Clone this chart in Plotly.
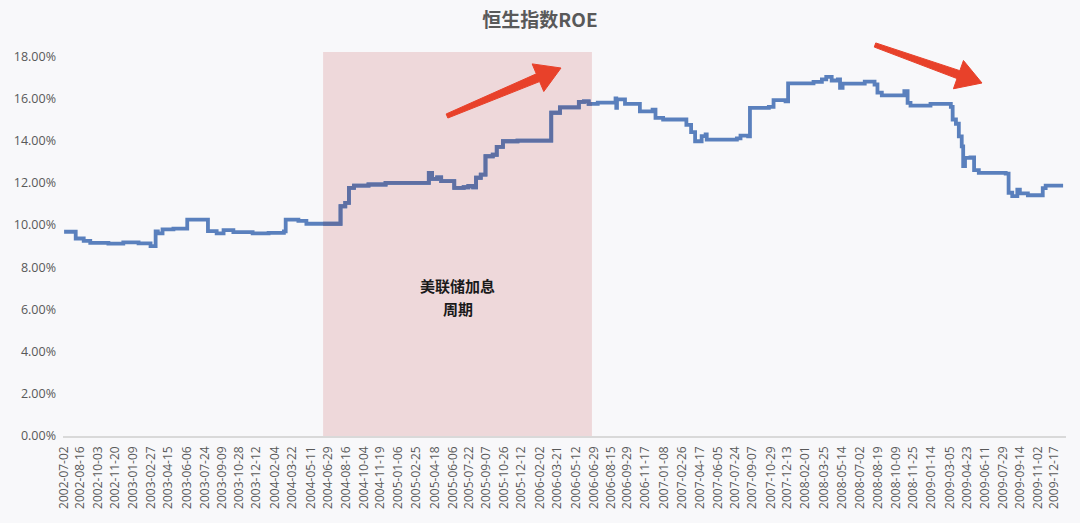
import numpy as np
import pandas as pd
import plotly.graph_objects as go

# ---------------- data ----------------
dates = [
    "2002-07-02", "2002-08-03", "2002-08-25", "2002-09-12", "2002-11-01", "2002-12-12",
    "2003-01-23", "2003-02-25", "2003-03-11", "2003-03-17", "2003-03-30", "2003-04-29",
    "2003-06-06", "2003-08-02", "2003-08-26", "2003-09-14", "2003-10-11", "2003-12-03",
    "2004-01-16", "2004-02-27", "2004-03-03", "2004-04-07", "2004-04-29", "2004-08-01",
    "2004-08-14", "2004-08-24", "2004-09-07", "2004-10-17", "2004-12-03", "2005-04-01",
    "2005-04-10", "2005-04-24", "2005-05-05", "2005-06-10", "2005-07-06", "2005-07-19",
    "2005-08-01", "2005-08-09", "2005-08-22", "2005-09-04", "2005-09-24", "2005-10-05",
    "2005-10-22", "2005-12-01", "2006-03-04", "2006-03-28", "2006-05-19", "2006-06-02",
    "2006-06-15", "2006-07-10", "2006-08-28", "2006-08-30", "2006-09-01", "2006-09-23",
    "2006-11-03", "2006-12-08", "2006-12-16", "2007-01-06", "2007-03-11", "2007-03-24",
    "2007-04-04", "2007-04-22", "2007-05-03", "2007-05-06", "2007-07-28", "2007-08-07",
    "2007-08-28", "2007-09-02", "2007-10-24", "2007-11-06", "2007-12-09", "2007-12-16",
    "2008-02-24", "2008-03-18", "2008-03-30", "2008-04-14", "2008-05-01", "2008-05-07",
    "2008-05-14", "2008-07-14", "2008-08-10", "2008-08-18", "2008-08-30", "2008-10-31",
    "2008-11-09", "2008-11-17", "2009-01-11", "2009-03-08", "2009-03-13", "2009-03-22",
    "2009-03-30", "2009-04-07", "2009-04-11", "2009-04-16", "2009-05-01", "2009-05-11",
    "2009-05-24", "2009-08-06", "2009-08-14", "2009-08-24", "2009-09-07", "2009-09-14",
    "2009-10-06", "2009-11-16", "2009-11-24", "2010-01-11",
]
roe = [
    9.68, 9.36, 9.25, 9.15, 9.12, 9.18,
    9.13, 9.00, 9.70, 9.60, 9.79, 9.83,
    10.26, 9.71, 9.60, 9.76, 9.66, 9.60,
    9.63, 9.70, 10.26, 10.20, 10.06, 10.89,
    11.05, 11.76, 11.87, 11.92, 12.00, 12.47,
    12.19, 12.26, 12.08, 11.76, 11.79, 11.85,
    11.79, 12.24, 12.39, 13.26, 13.33, 13.70,
    13.97, 14.00, 15.32, 15.58, 15.84, 15.86,
    15.74, 15.80, 16.00, 15.55, 15.95, 15.74,
    15.39, 15.47, 15.08, 15.00, 14.75, 14.40,
    13.97, 14.21, 14.30, 14.05, 14.11, 14.24,
    14.20, 15.55, 15.60, 15.92, 15.86, 16.71,
    16.78, 16.90, 17.02, 16.85, 16.90, 16.50,
    16.70, 16.80, 16.66, 16.27, 16.14, 16.34,
    15.79, 15.66, 15.74, 15.60, 15.00, 14.80,
    14.20, 13.73, 12.79, 13.18, 13.20, 12.60,
    12.47, 12.44, 11.53, 11.37, 11.68, 11.50,
    11.41, 11.75, 11.87, 11.87,
]

tick_labels = [
    "2002-07-02", "2002-08-16", "2002-10-03", "2002-11-20", "2003-01-09", "2003-02-27",
    "2003-04-15", "2003-06-06", "2003-07-24", "2003-09-09", "2003-10-28", "2003-12-12",
    "2004-02-04", "2004-03-22", "2004-05-11", "2004-06-29", "2004-08-16", "2004-10-04",
    "2004-11-19", "2005-01-06", "2005-02-25", "2005-04-18", "2005-06-06", "2005-07-22",
    "2005-09-07", "2005-10-26", "2005-12-12", "2006-02-02", "2006-03-21", "2006-05-12",
    "2006-06-29", "2006-08-15", "2006-09-29", "2006-11-17", "2007-01-08", "2007-02-26",
    "2007-04-17", "2007-06-05", "2007-07-24", "2007-09-07", "2007-10-29", "2007-12-13",
    "2008-02-01", "2008-03-25", "2008-05-14", "2008-07-02", "2008-08-19", "2008-10-09",
    "2008-11-25", "2009-01-14", "2009-03-05", "2009-04-23", "2009-06-11", "2009-07-29",
    "2009-09-14", "2009-11-02", "2009-12-17",
]
y_ticks = [0, 2, 4, 6, 8, 10, 12, 14, 16, 18]
y_tick_text = ["0.00%", "2.00%", "4.00%", "6.00%", "8.00%", "10.00%",
               "12.00%", "14.00%", "16.00%", "18.00%"]

hike_start = "2004-06-14"
hike_end = "2006-06-24"
hike_label = ["美联储加息", "周期"]
title_text = "恒生指数ROE"

# ---------------- layout geometry ----------------
W, H = 1080, 523
ML, MR, MT, MB = 63, 14, 52, 87
PW, PH = W - ML - MR, H - MT - MB

def px2paper(px, py):
    return (px - ML) / PW, (H - MB - py) / PH

BG = "#f8f8fa"
LINE = "#5a80bd"
LINE_IN = "#5e6fa3"
PINK = "#eed8da"
RED = "#e8412a"
GREY = "#595959"

s = pd.Series(roe, index=pd.to_datetime(dates))
r0, r1 = pd.Timestamp(hike_start), pd.Timestamp(hike_end)
inside = s[(s.index > r0) & (s.index < r1)]
v0 = s[s.index <= r0].iloc[-1]
v1 = s[s.index <= r1].iloc[-1]
in_x = [r0] + list(inside.index) + [r1]
in_y = [v0] + list(inside.values) + [v1]

fig = go.Figure()
fig.add_trace(go.Scatter(
    x=pd.to_datetime(dates), y=roe, mode="lines",
    line=dict(color=LINE, width=3.8, shape="hv"), hoverinfo="skip", showlegend=False,
))
fig.add_trace(go.Scatter(
    x=in_x, y=in_y, mode="lines",
    line=dict(color=LINE_IN, width=3.8, shape="hv"), hoverinfo="skip", showlegend=False,
))

# shaded rate-hike period
fig.add_shape(type="rect", xref="x", yref="paper", x0=hike_start, x1=hike_end,
              y0=0, y1=1, fillcolor=PINK, line=dict(width=0), layer="below")

mid = r0 + (r1 - r0) / 2
for txt, py in zip(hike_label, [285, 308]):
    fig.add_annotation(x=mid, xref="x", y=px2paper(0, py)[1], yref="paper",
                       xanchor="center", yanchor="middle",
                       text=f"<b>{txt}</b>", showarrow=False,
                       font=dict(family="Noto Sans CJK SC", size=15, color="#1a1a1a"))

# red arrows
def arrow_path(tail, tip, w_tail, w_neck, head_len, head_half):
    tail = np.array(tail, float); tip = np.array(tip, float)
    u = (tip - tail) / np.linalg.norm(tip - tail)
    n = np.array([-u[1], u[0]])
    neck = tip - u * head_len
    pts = [tail + n * w_tail, neck + n * w_neck, neck + n * head_half, tip,
           neck - n * head_half, neck - n * w_neck, tail - n * w_tail]
    parts = []
    for i, p in enumerate(pts):
        x, y = px2paper(p[0], p[1])
        parts.append(("M" if i == 0 else "L") + f"{x:.5f},{y:.5f}")
    return " ".join(parts) + " Z"

for tail, tip in [((447, 116), (561, 68)), ((875, 45), (982, 83))]:
    fig.add_shape(type="path", xref="paper", yref="paper",
                  path=arrow_path(tail, tip, 2.2, 4.2, 25, 15),
                  fillcolor=RED, line=dict(color=RED, width=1), layer="above")

fig.update_layout(
    width=W, height=H,
    margin=dict(l=ML, r=MR, t=MT, b=MB, autoexpand=False),
    paper_bgcolor=BG, plot_bgcolor=BG,
    title=dict(text=f"<b>{title_text}</b>", x=0.5, xanchor="center",
               y=1 - 20 / H, yanchor="middle", yref="container",
               font=dict(family="Noto Sans CJK SC", size=19, color=GREY)),
    font=dict(family="Open Sans", color=GREY),
    xaxis=dict(
        type="date", range=["2002-06-29", "2010-01-19"],
        tickvals=tick_labels, ticktext=tick_labels, tickangle=-90,
        tickfont=dict(family="Open Sans", size=12, color=GREY),
        showgrid=False, zeroline=False, showline=True, linecolor="#d9d9d9", linewidth=1.5,
        ticks="", ticklabelstandoff=4, automargin=False,
    ),
    yaxis=dict(
        range=[0, 18.2], tickvals=y_ticks, ticktext=y_tick_text,
        tickfont=dict(family="Open Sans", size=12.5, color=GREY),
        showgrid=False, zeroline=False, showline=False, ticks="", ticklabelstandoff=6,
        automargin=False,
    ),
)

fig.write_html(
    "out.html",
    config={"displayModeBar": False, "staticPlot": True},
    post_script="document.body.style.margin='0px';document.body.style.background='%s';" % BG,
)
